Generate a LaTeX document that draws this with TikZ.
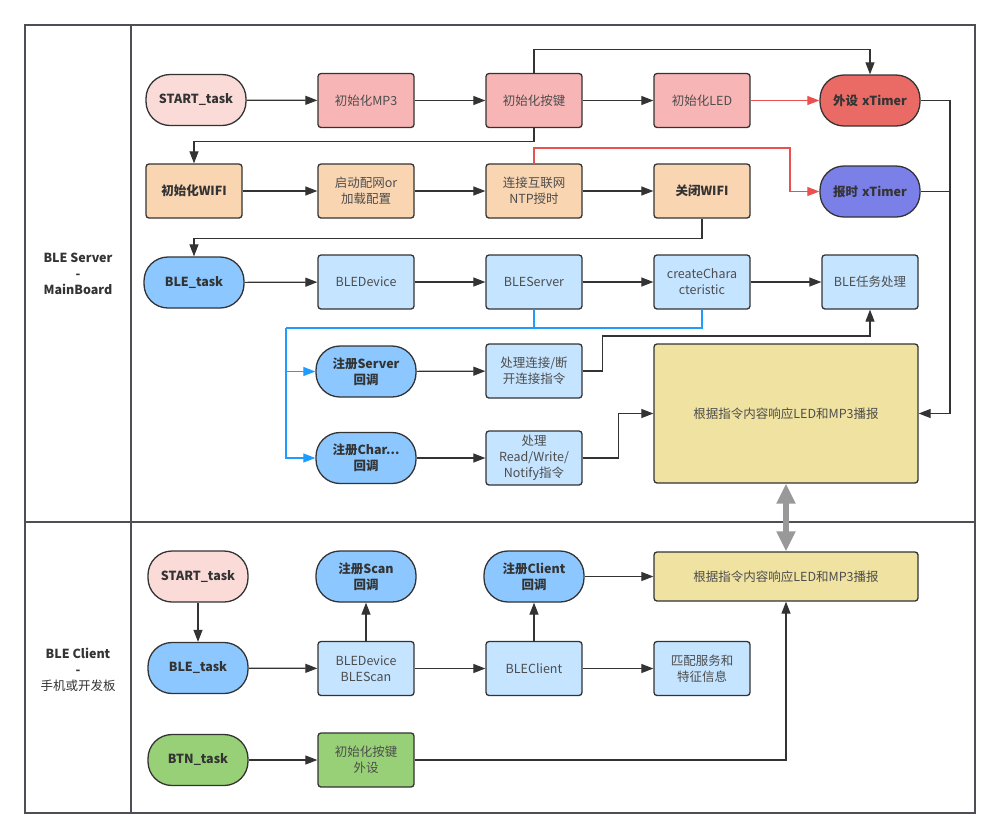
\documentclass[tikz,border=0pt]{standalone}
\usepackage{fontspec}
\setmainfont{Noto Sans CJK SC}
\usetikzlibrary{arrows.meta}
\definecolor{strokec}{HTML}{333333}
\definecolor{txtc}{HTML}{4D4D4D}
\definecolor{boldc}{HTML}{333333}
\definecolor{linec}{HTML}{333333}
\definecolor{frame}{HTML}{4D4F55}
\definecolor{pinkL}{HTML}{FADBD8}
\definecolor{pinkD}{HTML}{F7B5B5}
\definecolor{redT}{HTML}{EA6B66}
\definecolor{orangeF}{HTML}{F9D5B2}
\definecolor{purpleF}{HTML}{7B80E9}
\definecolor{blueM}{HTML}{8CC8FF}
\definecolor{blueL}{HTML}{C4E4FF}
\definecolor{khaki}{HTML}{F0E2A1}
\definecolor{greenF}{HTML}{97D077}
\definecolor{blueLine}{HTML}{1E9CFF}
\definecolor{redLine}{HTML}{EA5050}
\definecolor{grayArr}{HTML}{999999}
\newcommand{\fs}{\fontsize{12.5}{16}\selectfont}
\begin{document}
\begin{tikzpicture}[x=1pt,y=-1pt,
  base/.style={draw=strokec, line width=1.3pt, text=txtc, align=center, inner sep=1pt, font=\fs},
  box/.style={base, rounded corners=3pt, minimum width=96pt, minimum height=54pt, text width=92pt},
  boldbox/.style={box, font=\fs\bfseries, text=boldc},
  pill/.style={base, rounded corners=24pt, minimum width=100pt, minimum height=51pt, text width=94pt, font=\fs\bfseries, text=boldc},
  arr/.style={draw=linec, line width=1.2pt, -{Triangle[length=12pt,width=9pt]}},
  plain/.style={draw=linec, line width=1.2pt},
  barr/.style={draw=blueLine, line width=1.2pt, -{Triangle[length=12pt,width=9pt]}},
  bplain/.style={draw=blueLine, line width=1.2pt},
  rarr/.style={draw=redLine, line width=1.2pt, -{Triangle[length=12pt,width=9pt]}},
  lane/.style={align=center, font=\fs\bfseries, text=boldc}
]
\useasboundingbox (0,0) rectangle (999,839);
\fill[white] (0,0) rectangle (999,839);

% frame
\draw[frame, line width=1.5pt] (25,25) rectangle (975,813);
\draw[frame, line width=1.5pt] (131,25) -- (131,813);
\draw[frame, line width=1.5pt] (25,522) -- (975,522);
\node[lane] (l1) at (78,274) {BLE Server\\-\\MainBoard};
\node[lane] (l2) at (78,670) {BLE Client\\-\\{\mdseries 手机或开发板}};

% row 1
\node[pill, fill=pinkL] (s1) at (196,100) {START\_task};
\node[box, fill=pinkD] (mp3) at (366,100.5) {初始化MP3};
\node[box, fill=pinkD] (kb) at (534,100.5) {初始化按键};
\node[box, fill=pinkD] (led) at (702,100.5) {初始化LED};
\node[pill, fill=redT] (ext) at (870,100.5) {外设 xTimer};

% row 2
\node[boldbox, fill=orangeF] (wifi) at (194,191) {初始化WIFI};
\node[box, fill=orangeF] (cfg) at (366,191) {启动配网or\\加载配置};
\node[box, fill=orangeF] (ntp) at (534,191) {连接互联网\\NTP授时};
\node[boldbox, fill=orangeF] (cw) at (702,191) {关闭WIFI};
\node[pill, fill=purpleF] (bs) at (870,191.5) {报时 xTimer};

% row 3
\node[pill, fill=blueM] (ble) at (194,282.5) {BLE\_task};
\node[box, fill=blueL] (dev) at (366,282) {BLEDevice};
\node[box, fill=blueL] (srv) at (534,282) {BLEServer};
\node[box, fill=blueL] (chr) at (702,282) {createChara\\cteristic};
\node[box, fill=blueL] (tk) at (870,282) {BLE任务处理};

% callbacks
\node[pill, fill=blueM] (cbs) at (366,371.5) {注册Server\\回调};
\node[pill, fill=blueM] (cbc) at (366,458) {注册Char...\\回调};
\node[box, fill=blueL] (pc) at (534,371) {处理连接/断\\开连接指令};
\node[box, fill=blueL] (pr) at (534,458) {处理\\Read/Write/\\Notify指令};
\node[box, fill=khaki, minimum width=264pt, minimum height=139pt, text width=250pt] (big) at (786,413.5) {根据指令内容响应LED和MP3播报};

% client lane
\node[pill, fill=pinkL] (s2) at (198,576.5) {START\_task};
\node[pill, fill=blueM] (scan) at (366,576.5) {注册Scan\\回调};
\node[pill, fill=blueM] (cli) at (534,576.5) {注册Client\\回调};
\node[box, fill=khaki, minimum width=264pt, minimum height=49pt, text width=250pt] (big2) at (786,576.5) {根据指令内容响应LED和MP3播报};
\node[pill, fill=blueM] (ble2) at (198,668) {BLE\_task};
\node[box, fill=blueL] (bdev) at (366,668.5) {BLEDevice\\BLEScan};
\node[box, fill=blueL] (bcl) at (534,668.5) {BLEClient};
\node[box, fill=blueL] (mat) at (702,668.5) {匹配服务和\\特征信息};
\node[pill, fill=greenF] (btn) at (198,760) {BTN\_task};
\node[box, fill=greenF] (bkey) at (366,760) {初始化按键\\外设};

% coordinates
\coordinate (bj) at (286,328);
\coordinate (rc) at (790,148);
\coordinate (rr) at (950,413.5);

% row 1 connectors
\draw[arr] (s1) -- (mp3);
\draw[arr] (mp3) -- (kb);
\draw[arr] (kb) -- (led);
\draw[rarr] (led) -- (ext);
\draw[arr] (kb.north) -- ++(0,-23) -| (ext.north);
\draw[arr] (kb.south) -- ++(0,13) -| (wifi.north);

% row 2
\draw[arr] (wifi) -- (cfg);
\draw[arr] (cfg) -- (ntp);
\draw[arr] (ntp) -- (cw);
\draw[rarr] (ntp.north) |- (rc) |- (bs.west);
\draw[arr] (cw.south) -- ++(0,20) -| (ble.north);

% right side
\draw[arr] (ext.east) -| (rr) -- (big.east);
\draw[plain] (bs.east) -- (bs.east -| rr);

% row 3
\draw[arr] (ble) -- (dev);
\draw[arr] (dev) -- (srv);
\draw[arr] (srv) -- (chr);
\draw[arr] (chr) -- (tk);
\draw[bplain] (srv.south) |- (bj);
\draw[bplain] (chr.south) |- (bj);
\draw[barr] (bj) |- (cbs.west);
\draw[barr] (bj) |- (cbc.west);
\draw[arr] (cbs) -- (pc);
\draw[arr] (cbc) -- (pr);
\draw[arr] (pc.east) -- ++(20,0) -- ++(0,-35) -| (tk.south);
\draw[arr] (pr.east) -- ++(36,0) |- (big.west);

% gray double arrow
\draw[draw=grayArr, line width=5.5pt, {Triangle[length=20pt,width=18pt]}-{Triangle[length=20pt,width=18pt]}] (big.south) -- (big2.north);

% client connectors
\draw[arr] (s2) -- (ble2);
\draw[arr] (ble2) -- (bdev);
\draw[arr] (bdev) -- (scan);
\draw[arr] (bdev) -- (bcl);
\draw[arr] (bcl) -- (cli);
\draw[arr] (bcl) -- (mat);
\draw[arr] (cli) -- (big2);
\draw[arr] (btn) -- (bkey);
\draw[arr] (bkey.east) -| (big2.south);
\end{tikzpicture}
\end{document}
